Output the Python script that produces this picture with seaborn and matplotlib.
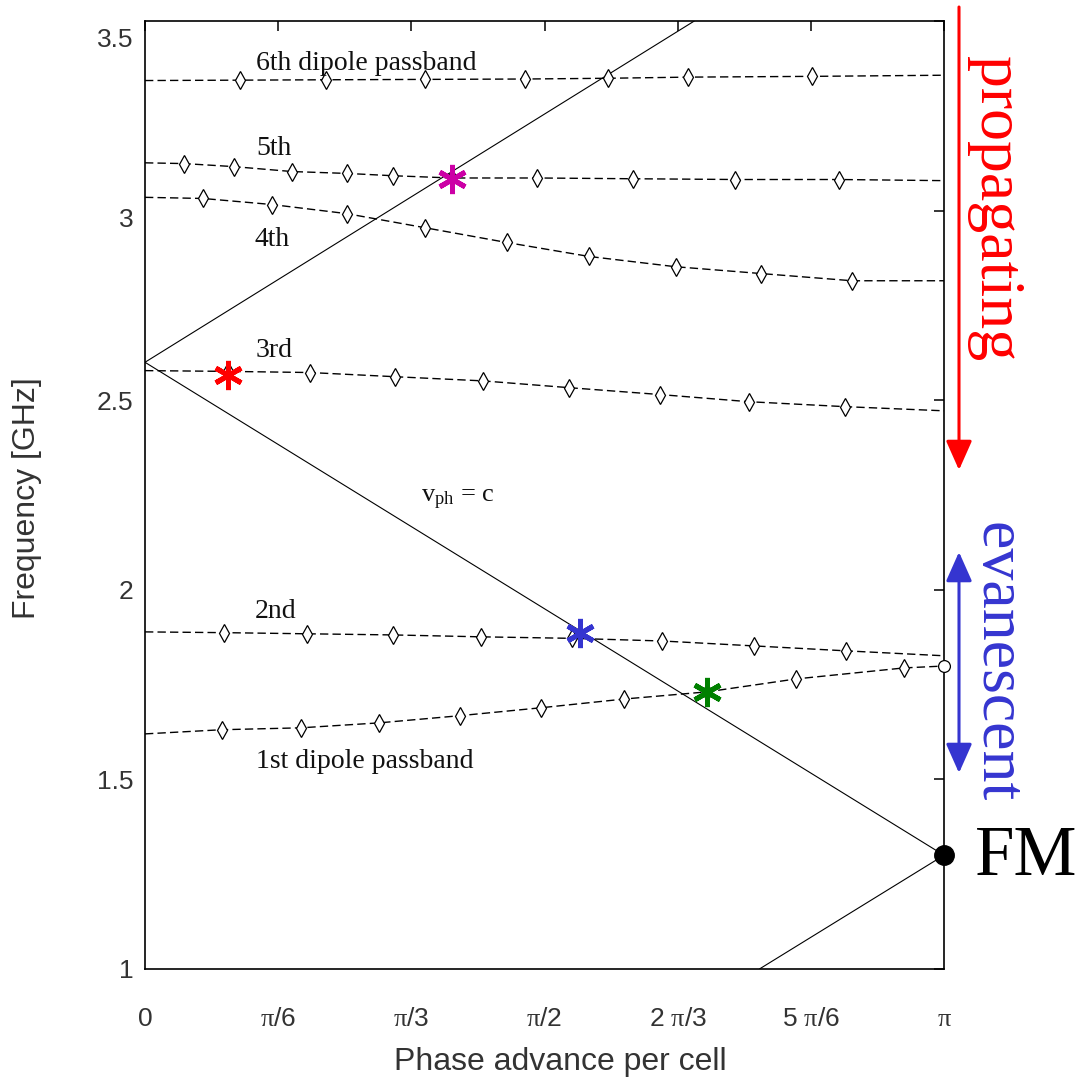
import numpy as np
import pandas as pd
import matplotlib
matplotlib.use("Agg")
import matplotlib.pyplot as plt
import matplotlib.transforms as mtransforms
import seaborn as sns

# Phase advance per cell in units of pi, frequency in GHz.
# Computed dispersion points (diamonds) for each dipole passband.
band1_phase = [0.096, 0.195, 0.2925, 0.394, 0.496, 0.600, 0.704, 0.815, 0.950]
band1_freq = [1.631, 1.636, 1.649, 1.668, 1.689, 1.712, 1.731, 1.765, 1.794]
band1_edge = [1.620, 1.799]          # frequency at phase 0 and pi

band2_phase = [0.099, 0.2025, 0.310, 0.420, 0.534, 0.6475, 0.7625, 0.8775]
band2_freq = [1.887, 1.884, 1.881, 1.876, 1.872, 1.865, 1.852, 1.839]
band2_edge = [1.889, 1.826]

band3_phase = [0.104, 0.206, 0.3125, 0.4225, 0.531, 0.644, 0.756, 0.876]
band3_freq = [2.576, 2.573, 2.562, 2.551, 2.533, 2.515, 2.496, 2.483]
band3_edge = [2.578, 2.472]

band4_phase = [0.0725, 0.159, 0.2525, 0.350, 0.4525, 0.556, 0.664, 0.771, 0.885]
band4_freq = [3.032, 3.016, 2.992, 2.955, 2.916, 2.879, 2.852, 2.834, 2.815]
band4_edge = [3.035, 2.815]

band5_phase = [0.049, 0.111, 0.184, 0.253, 0.310, 0.384, 0.491, 0.611, 0.739, 0.868]
band5_freq = [3.124, 3.116, 3.103, 3.098, 3.092, 3.086, 3.086, 3.084, 3.082, 3.082]
band5_edge = [3.126, 3.079]

band6_phase = [0.119, 0.226, 0.351, 0.475, 0.580, 0.680, 0.835]
band6_freq = [3.344, 3.345, 3.346, 3.347, 3.349, 3.352, 3.354]
band6_edge = [3.343, 3.357]

# Speed-of-light lines (v_ph = c), as segment end points
light_phase = [[0.0, 0.6875], [0.0, 1.0], [0.769, 1.0]]
light_freq = [[2.60, 3.50], [2.60, 1.30], [1.00, 1.30]]

# Synchronous (v_ph = c) crossings highlighted on the bands
sync_phase = [0.384, 0.104, 0.544, 0.704]
sync_freq = [3.084, 2.567, 1.887, 1.731]
sync_color = ["#CC00A6", "#FF0000", "#3535D0", "#008000"]

# Fundamental mode
fm_phase = 1.0
fm_freq = 1.30

xtick_vals = [0, 1 / 6, 1 / 3, 1 / 2, 2 / 3, 5 / 6, 1]
xtick_text = ["0", r"$\mathrm{\pi}$/6", r"$\mathrm{\pi}$/3", r"$\mathrm{\pi}$/2",
              r"2 $\mathrm{\pi}$/3", r"5 $\mathrm{\pi}$/6", r"$\mathrm{\pi}$"]
ytick_vals = [1, 1.5, 2, 2.5, 3, 3.5]
ytick_text = ["1", "1.5", "2", "2.5", "3", "3.5"]

band_labels = ["1st dipole passband", "2nd", "3rd", "4th", "5th", "6th dipole passband"]
band_label_pos = [(0.275, 1.546), (0.164, 1.942), (0.161, 2.631),
                  (0.159, 2.923), (0.161, 3.164), (0.2775, 3.388)]

sns.set_theme(style="white")
plt.rcParams["font.family"] = ["Liberation Sans", "DejaVu Sans"]
plt.rcParams["mathtext.fontset"] = "custom"
plt.rcParams["mathtext.rm"] = "Liberation Serif"
plt.rcParams["mathtext.it"] = "Liberation Serif:italic"
plt.rcParams["axes.edgecolor"] = "black"
plt.rcParams["axes.linewidth"] = 1.2

W, H = 1081, 1077
fig = plt.figure(figsize=(W / 100, H / 100), dpi=100)
ax = fig.add_axes([145 / W, 108 / H, 799 / W, 948 / H])

PI = np.pi
dash = (0, (6, 3))

bands = [
    (band1_phase, band1_freq, band1_edge),
    (band2_phase, band2_freq, band2_edge),
    (band3_phase, band3_freq, band3_edge),
    (band4_phase, band4_freq, band4_edge),
    (band5_phase, band5_freq, band5_edge),
    (band6_phase, band6_freq, band6_edge),
]

for i, (ph, fr, edge) in enumerate(bands):
    line_df = pd.DataFrame({
        "phase": PI * np.array([0.0] + list(ph) + [1.0]),
        "freq": [edge[0]] + list(fr) + [edge[1]],
    })
    sns.lineplot(data=line_df, x="phase", y="freq", ax=ax, color="black",
                 lw=1.0, linestyle=dash, sort=False, estimator=None, zorder=2)
    ax.plot(PI * np.array(ph), fr, ls="none", marker="d", ms=9, mfc="white",
            mec="black", mew=0.9, zorder=3)

# open circle where the 1st band meets the zone boundary
ax.plot(PI * 1.0, band1_edge[1], ls="none", marker="o", ms=8.5, mfc="white",
        mec="black", mew=0.9, zorder=3, clip_on=False)

for ph, fr in zip(light_phase, light_freq):
    seg = pd.DataFrame({"phase": PI * np.array(ph), "freq": fr})
    sns.lineplot(data=seg, x="phase", y="freq", ax=ax, color="black", lw=0.8,
                 sort=False, estimator=None, zorder=2)

for ph, fr, c in zip(sync_phase, sync_freq, sync_color):
    ax.plot(PI * ph, fr, ls="none", marker=(6, 2, 0), ms=21, mew=3.6,
            color=c, zorder=5)

ax.plot(PI * fm_phase, fm_freq, ls="none", marker="o", ms=14, color="black",
        zorder=6, clip_on=False)

for text, (px, py) in zip(band_labels, band_label_pos):
    ax.text(PI * px, py, text, ha="center", va="center", fontsize=20,
            family="Liberation Serif", color="#111111")
ax.text(PI * 0.391, 2.237, r"v$_{\rm ph}$ = c", ha="center", va="center",
        fontsize=19, family="Liberation Serif", color="#111111")

ax.set_xlim(0, PI)
ax.set_ylim(1, 3.5)
ax.set_xticks(PI * np.array(xtick_vals))
ax.set_xticklabels(xtick_text)
ax.set_yticks(ytick_vals)
ax.set_yticklabels(ytick_text)
ax.tick_params(axis="both", direction="in", length=7, width=1.1, color="black",
               top=True, right=True, labelsize=19, labelcolor="#333333")
ax.tick_params(axis="x", pad=27)
ax.tick_params(axis="y", pad=8.5)

# the top two frequency labels sit slightly below their ticks
for lbl, shift in zip(ax.get_yticklabels()[-2:], [7, 17]):
    lbl.set_transform(lbl.get_transform() +
                      mtransforms.ScaledTranslation(0, -shift / 100, fig.dpi_scale_trans))

ax.set_xlabel("Phase advance per cell", fontsize=23, color="#333333")
ax.set_ylabel("Frequency [GHz]", fontsize=23, color="#333333")
ax.xaxis.set_label_coords(0.52, -0.082)
ax.yaxis.set_label_coords(-0.129, 0.497)

for s in ax.spines.values():
    s.set_color("black")
    s.set_linewidth(1.2)


def figpx(x, y):
    return (x / W, 1 - y / H)


ax.annotate("", xy=figpx(959, 470), xytext=figpx(959, 7),
            xycoords="figure fraction", textcoords="figure fraction",
            arrowprops=dict(arrowstyle="-|>,head_length=1.8,head_width=0.8",
                            mutation_scale=10, color="#FF0000", lw=2.2,
                            shrinkA=0, shrinkB=0))
ax.annotate("", xy=figpx(959, 552), xytext=figpx(959, 773),
            xycoords="figure fraction", textcoords="figure fraction",
            arrowprops=dict(arrowstyle="<|-|>,head_length=1.8,head_width=0.8",
                            mutation_scale=10, color="#3535D0", lw=2.2,
                            shrinkA=0, shrinkB=0))

fig.text(*figpx(980, 209), "propagating", rotation=-90, rotation_mode="anchor",
         ha="center", va="baseline", fontsize=46, color="#FF0000",
         family="Liberation Serif")
fig.text(*figpx(980, 662), "evanescent", rotation=-90, rotation_mode="anchor",
         ha="center", va="baseline", fontsize=46, color="#3535D0",
         family="Liberation Serif")
fig.text(*figpx(975, 875), "FM", ha="left", va="baseline", fontsize=51,
         color="black", family="Liberation Serif")

fig.savefig("out.png", dpi=100, facecolor="white")
